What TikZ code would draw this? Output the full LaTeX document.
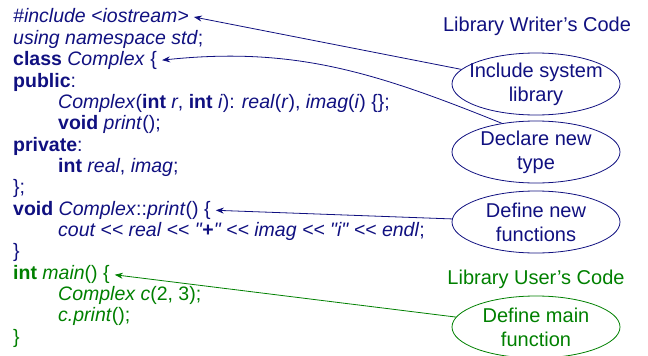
\documentclass[tikz,border=0pt]{standalone}
\usepackage{fontspec}
\setmainfont{Liberation Sans}[Ligatures=TeXOff]
\usetikzlibrary{shapes.geometric,arrows.meta}
\definecolor{codeblue}{RGB}{16,16,128}
\definecolor{codegreen}{RGB}{0,128,0}
\newcommand{\shl}{<\kern0pt<}
\tikzset{
  codeline/.style={anchor=base west,inner sep=0pt,font=\fontsize{19.5}{21.35}\selectfont},
  notebox/.style={ellipse,draw,line width=0.8pt,minimum width=168pt,minimum height=62pt,
    inner xsep=-12pt,inner ysep=-4pt,align=center,font=\fontsize{20}{24}\selectfont},
  headnode/.style={font=\fontsize{20}{24}\selectfont},
  ptr/.style={-{Stealth[length=8pt,width=6pt]},line width=0.8pt,shorten >=5pt}
}
\begin{document}
\begin{tikzpicture}[x=1pt,y=-1pt]
  \useasboundingbox (0,0) rectangle (648,356);

  %% Library writer's code
  \begin{scope}[text=codeblue]
  \node[codeline] (inc) at (13,23) {\textit{\#include <iostream>}};
  \node[codeline] (using) at (13,44.35) {\textit{using namespace std};};
  \node[codeline] (cls) at (13,65.7) {\textbf{class} \textit{Complex} \{};
  \node[codeline] (pub) at (13,87.05) {\textbf{public}:};
  \node[codeline] (ctor) at (58,108.4) {\textit{Complex}(\textbf{int} \textit{r}, \textbf{int} \textit{i}): \textit{real}(\textit{r}), \textit{imag}(\textit{i}) \{\};};
  \node[codeline] (prdecl) at (58,129.75) {\textbf{void} \textit{print}();};
  \node[codeline] (priv) at (13,151.1) {\textbf{private}:};
  \node[codeline] (mem) at (58,172.45) {\textbf{int} \textit{real}, \textit{imag};};
  \node[codeline] (clsend) at (13,193.8) {\};};
  \node[codeline] (prdef) at (13,215.15) {\textbf{void} \textit{Complex}::\textit{print}() \{};
  \node[codeline] (cout) at (58,236.5) {\textit{cout \shl{} real \shl{} "}\textbf{+}\textit{" \shl{} imag \shl{} "i" \shl{} endl};};
  \node[codeline] (prend) at (13,257.85) {\}};
  \end{scope}

  %% Library user's code
  \begin{scope}[text=codegreen]
  \node[codeline] (mainln) at (13,279.2) {\textbf{int} \textit{main}() \{};
  \node[codeline] (obj) at (58,300.55) {\textit{Complex c}(2, 3);};
  \node[codeline] (call) at (58,321.9) {\textit{c.print}();};
  \node[codeline] (mainend) at (13,343.25) {\}};
  \end{scope}

  %% Notes
  \node[headnode,text=codeblue] (writer) at (537,26) {Library Writer’s Code};
  \node[notebox,draw=codeblue,text=codeblue] (incl) at (536,84) {Include system\\library};
  \node[notebox,draw=codeblue,text=codeblue] (decl) at (536,152) {Declare new\\type};
  \node[notebox,draw=codeblue,text=codeblue] (defn) at (536,222) {Define new\\functions};
  \node[headnode,text=codegreen] (user) at (536,279) {Library User’s Code};
  \node[notebox,draw=codegreen,text=codegreen] (mainf) at (536,327) {Define main\\function};

  %% Arrows
  \draw[ptr,codeblue] (incl) -- (inc.east);
  \draw[ptr,codeblue] (decl.140) to[out=158,in=6] (cls.east);
  \draw[ptr,codeblue] (defn) -- (prdef.east);
  \draw[ptr,codegreen] (mainf) -- (mainln.east);
\end{tikzpicture}
\end{document}
